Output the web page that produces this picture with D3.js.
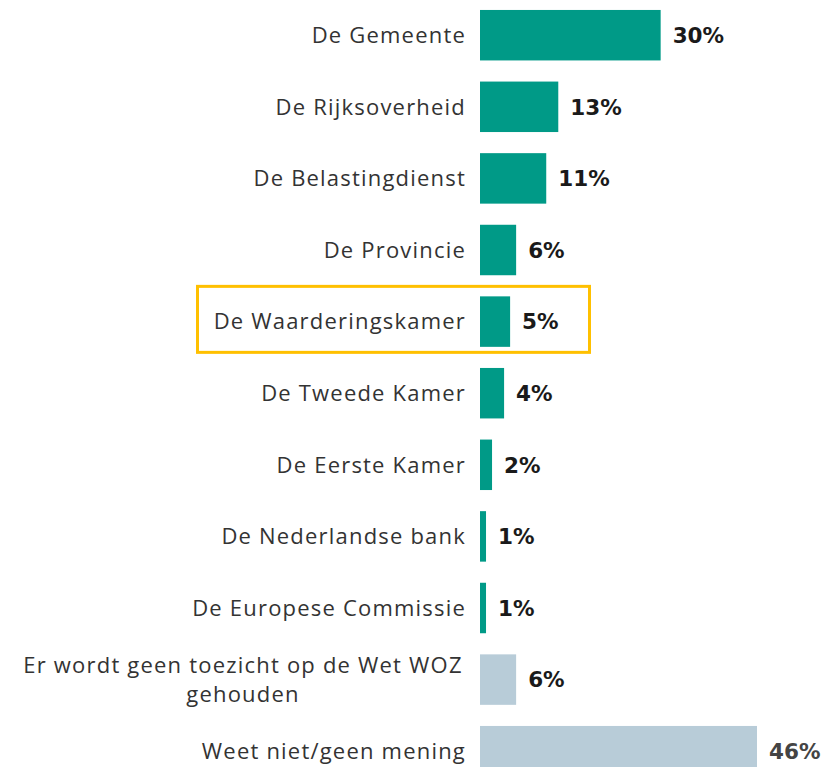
<!DOCTYPE html>
<html lang="nl">
<head>
<meta charset="utf-8">
<title>Toezicht Wet WOZ</title>
<script src="https://cdn.jsdelivr.net/npm/d3@7"></script>
<style>
  body { margin: 0; background: #fff; }
  svg { display: block; }
</style>
</head>
<body>
<script>
var width = 828;
var height = 767;

var categories = [
  "De Gemeente",
  "De Rijksoverheid",
  "De Belastingdienst",
  "De Provincie",
  "De Waarderingskamer",
  "De Tweede Kamer",
  "De Eerste Kamer",
  "De Nederlandse bank",
  "De Europese Commissie",
  "Er wordt geen toezicht op de Wet WOZ|gehouden",
  "Weet niet/geen mening"
];
var values = [30, 13, 11, 6, 5, 4, 2, 1, 1, 6, 46];
var isOther = [false, false, false, false, false, false, false, false, false, true, true];
var highlight = "De Waarderingskamer";

var svg = d3.select("body").append("svg")
    .attr("width", width)
    .attr("height", height);

var x = d3.scaleLinear()
    .domain([0, 46])
    .range([480, 757]);

var y = d3.scaleBand()
    .domain(categories)
    .range([-0.6, 787])
    .paddingInner(0.295)
    .paddingOuter(0.1475);

var rows = svg.selectAll("g.row")
    .data(categories)
    .enter()
    .append("g")
    .attr("class", "row");

// yellow box round the Waarderingskamer row
svg.append("rect")
    .attr("x", 197.5)
    .attr("y", y(highlight) - 10)
    .attr("width", 392)
    .attr("height", 66)
    .attr("fill", "none")
    .attr("stroke", "#FFC000")
    .attr("stroke-width", 3);

rows.append("rect")
    .attr("x", x(0))
    .attr("y", function(d) { return y(d); })
    .attr("width", function(d, i) { return x(values[i]) - x(0); })
    .attr("height", y.bandwidth())
    .attr("fill", function(d, i) { return isOther[i] ? "#B8CCD8" : "#009A87"; });

// category labels
rows.append("text")
    .attr("font-family", "'Open Sans', sans-serif")
    .attr("font-size", 22)
    .attr("letter-spacing", 1.2)
    .attr("fill", "#333")
    .each(function(d) {
        var lines = d.split("|");
        var t = d3.select(this);
        var cy = y(d) + y.bandwidth() / 2;
        if (lines.length == 1) {
            t.attr("text-anchor", "end")
             .attr("x", 466)
             .attr("y", cy)
             .attr("dy", "0.35em")
             .text(d);
        } else {
            // two lines centred
            t.attr("text-anchor", "middle");
            t.append("tspan").attr("x", 243).attr("y", cy - 14).attr("dy", "0.35em").text(lines[0]);
            t.append("tspan").attr("x", 243).attr("y", cy + 15).attr("dy", "0.35em").text(lines[1]);
        }
    });

// value labels
rows.append("text")
    .attr("x", function(d, i) { return x(values[i]) + 12; })
    .attr("y", function(d) { return y(d) + y.bandwidth() / 2; })
    .attr("dy", "0.36em")
    .attr("font-family", "'DejaVu Sans', sans-serif")
    .attr("font-weight", "bold")
    .attr("font-size", 21.5)
    .attr("fill", function(d, i) { return i == categories.length - 1 ? "#444" : "#1a1a1a"; })
    .text(function(d, i) { return values[i] + "%"; });
</script>
</body>
</html>
